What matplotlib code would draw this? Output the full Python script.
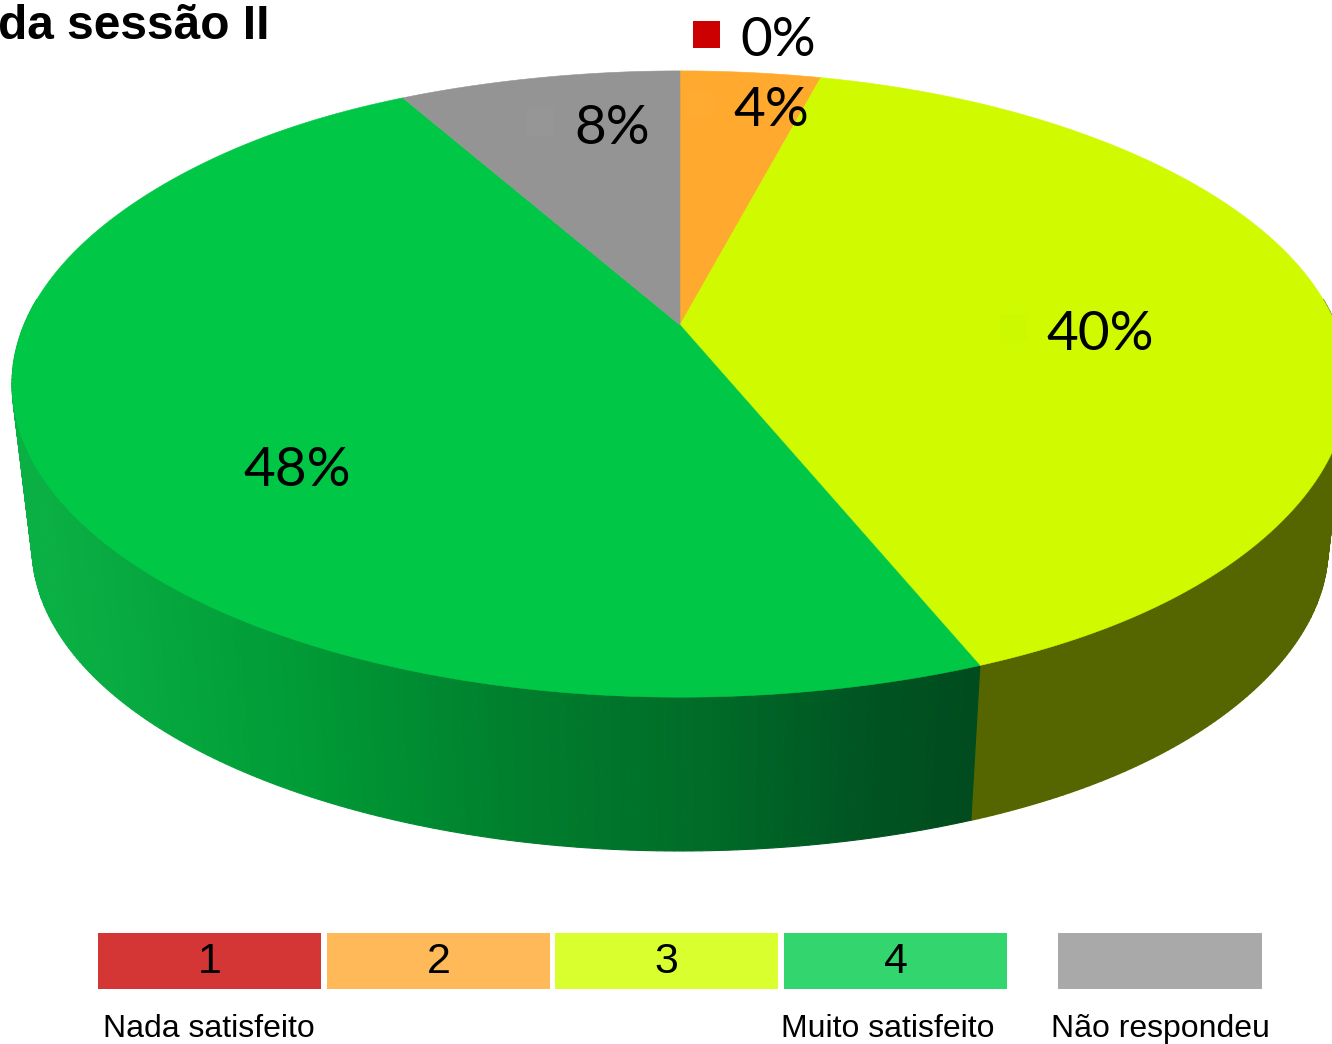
#!/usr/bin/env python3
# -*- coding: utf-8 -*-
"""Pizza 3D em perspectiva: satisfacao da sessao II"""

import numpy as np
import matplotlib
matplotlib.use("Agg")
import matplotlib.pyplot as plt
from matplotlib.colors import LinearSegmentedColormap

# data
categories = ["1", "2", "3", "4", ""]
values = [0, 4, 40, 48, 8]
pct_labels = ["0%", "4%", "40%", "48%", "8%"]
scale_left = "Nada satisfeito"
scale_right = "Muito satisfeito"
no_answer = "Não respondeu"
title = "da sessão II"

# colours
top_colors = ["#CC0000", "#FFA92E", "#CFFA00", "#00C846", "#949494"]
key_colors = ["#CC0000", "#FFAA30", "#CDF900", "#00C746", "#969696"]
side_yellow = "#556600"
legend_colors = ["#D43535", "#FFB958", "#D9FF2E", "#33D66E", "#A9A9A9"]
green_side = LinearSegmentedColormap.from_list(
    "green_side",
    [(0.0, "#0AB044"), (0.28, "#009A36"), (0.5, "#007F2D"),
     (0.72, "#006B28"), (0.88, "#005522"), (1.0, "#004C1E")])

# geometry of the perspective disc, in pixels
CX, CY = 680, 325
RX, RY = 656, 302
K = -0.1885
BOTTOM_SCALE = 0.97
BOTTOM_CY = 490
# the original disc is a little fuller at the slice edges than a true ellipse
BUMP_AT = np.radians([14.4, 158.4, 331.2])
BUMP_SIZE = [0.02, 0.024, 0.022]
BUMP_WIDTH = np.radians(22)
# the wall only shows on the front part of the rim
WALL_FROM = np.radians(85)
WALL_TO = np.radians(275)


def top_rim(theta):
    u, v = np.sin(theta), -np.cos(theta)
    d = 1 + K * v
    f = 1.0
    for at, size in zip(BUMP_AT, BUMP_SIZE):
        f = f + size * np.exp(-((theta - at) / BUMP_WIDTH) ** 2)
    return CX + RX * u / d * f, CY + RY * v / d


def bottom_rim(theta):
    x, y = top_rim(theta)
    return CX + BOTTOM_SCALE * (x - CX), BOTTOM_CY + BOTTOM_SCALE * (y - CY)


fig = plt.figure(figsize=(13.32, 10.44), dpi=100)
ax = fig.add_axes([0, 0, 1, 1])
ax.set_xlim(0, 1332)
ax.set_ylim(1044, 0)
ax.axis("off")

edges = np.radians(np.cumsum([0] + values) * 360 / sum(values))

# side walls first, top goes over them
x0, _ = bottom_rim(np.radians(270))
x1, _ = bottom_rim(edges[3])

th = np.linspace(max(edges[2], WALL_FROM), edges[3], 121)
for a, b in zip(th[:-1], th[1:]):
    xa, ya = top_rim(np.array([a, b]))
    xb, yb = bottom_rim(np.array([b, a]))
    ax.fill(np.r_[xa, xb], np.r_[ya, yb], color=side_yellow, lw=1.0, zorder=2)

th = np.linspace(edges[3], min(edges[4], WALL_TO), 181)
for a, b in zip(th[:-1], th[1:]):
    xa, ya = top_rim(np.array([a, b]))
    xb, yb = bottom_rim(np.array([b, a]))
    col = green_side(np.clip((xa.mean() - x0) / (x1 - x0), 0, 1))
    ax.fill(np.r_[xa, xb], np.r_[ya, yb], color=col, lw=0.8, zorder=2)

# top of the slices
for i in range(len(values)):
    if values[i] == 0:
        continue
    th = np.linspace(edges[i], edges[i + 1], 300)
    xs, ys = top_rim(th)
    ax.fill(np.r_[CX, xs], np.r_[CY, ys], color=top_colors[i], lw=0.4, zorder=3)

# percentage labels with their small keys
label_pos = [(778, 41), (771, 111), (1100, 334), (297, 470), (612, 129)]
key_pos = [(693, 21), (687, 90), (1000, 314), (197, 448), (527, 109)]
for i in range(len(values)):
    ax.fill_between([key_pos[i][0], key_pos[i][0] + 27],
                    key_pos[i][1], key_pos[i][1] + 27,
                    color=key_colors[i], lw=0, zorder=4)
    ax.text(label_pos[i][0], label_pos[i][1], pct_labels[i], family="Lato",
            fontsize=39.5, color="black", ha="center", va="center", zorder=5)

# scale legend
box_x = [98, 327, 555, 784, 1058]
box_w = [223, 223, 223, 223, 204]
for i in range(len(categories)):
    ax.bar(box_x[i], 56, width=box_w[i], bottom=933, align="edge",
           color=legend_colors[i], lw=0, zorder=2)
    ax.text(box_x[i] + box_w[i] / 2, 962, categories[i], family="Liberation Sans",
            fontsize=31, ha="center", va="center", color="black", zorder=3)

ax.text(209, 1029, scale_left, family="Liberation Sans", fontsize=23,
        ha="center", va="center")
ax.text(888, 1029, scale_right, family="Liberation Sans", fontsize=23,
        ha="center", va="center")
ax.text(1160, 1029, no_answer, family="Liberation Sans", fontsize=23,
        ha="center", va="center")

ax.text(-2, 39, title, family="Liberation Sans", fontweight="bold", fontsize=34.5,
        ha="left", va="baseline", color="black")

fig.savefig("out.png", dpi=100)
